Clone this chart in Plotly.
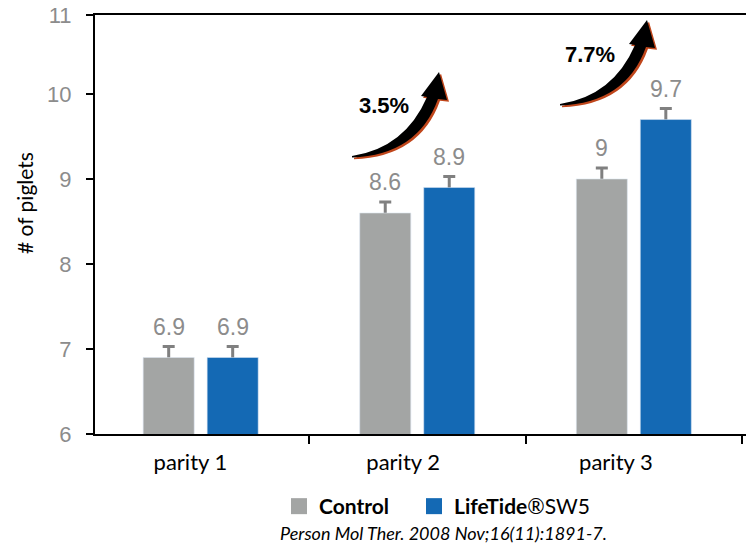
import plotly.graph_objects as go

categories = ["parity 1", "parity 2", "parity 3"]
control = [6.9, 8.6, 9.0]
lifetide = [6.9, 8.9, 9.7]
control_err = [0.13, 0.13, 0.13]
lifetide_err = [0.13, 0.13, 0.13]
series_names = ["<b>Control</b>", "<b>LifeTide</b>®SW5"]
increase_labels = ["3.5%", "7.7%"]
y_tickvals = [6, 7, 8, 9, 10, 10.93]
y_ticktext = ["6", "7", "8", "9", "10", "11"]
citation = "<i>Person Mol Ther. 2008 Nov;16(11):1891-7.</i>"

GRAY = "#A3A5A4"
BLUE = "#1469B4"
LABEL_GRAY = "#8C8C8C"
ERR_GRAY = "#808080"

W, H = 746, 545
L, R, T, B = 95, 0, 15, 111
PW, PH = W - L - R, H - T - B
BARGAP = 0.409
BARGROUPGAP = 0.203
XRANGE = [-0.488, 2.518]
XLABEL_RANGE = [-0.4484, 2.6116]   # tick-label axis, slightly different spacing as in source
YRANGE = [6, 10.93]


def paper(px, py):
    return (px - L) / PW, (T + PH - py) / PH


fig = go.Figure()
# error bars (drawn underneath, on base axes; lower part hidden by bars drawn above)
for vals, errs in [(control, control_err), (lifetide, lifetide_err)]:
    fig.add_trace(go.Bar(
        x=categories, y=vals, marker_color="rgba(0,0,0,0)", showlegend=False,
        hoverinfo="skip",
        error_y=dict(type="data", array=errs, arrayminus=[0.3] * len(errs),
                     symmetric=False, color=ERR_GRAY, thickness=3, width=6),
    ))
# visible bars on overlaying axes
for vals, name, col in [(control, series_names[0], GRAY), (lifetide, series_names[1], BLUE)]:
    fig.add_trace(go.Bar(x=categories, y=vals, name=name, marker_color=col,
                         showlegend=False, xaxis="x2", yaxis="y2"))
# carrier for the category tick labels
fig.add_trace(go.Scatter(x=categories, y=control, mode="none", showlegend=False,
                         hoverinfo="skip", xaxis="x3", yaxis="y"))
# legend entries (one legend per series so each can be placed)
for name, col, leg in zip(series_names, [GRAY, BLUE], ["legend", "legend2"]):
    fig.add_trace(go.Scatter(x=[None], y=[None], mode="markers", name=name, legend=leg,
                             marker=dict(symbol="square", size=16, color=col)))

annotations = []
slot = (1 - BARGAP) / 2
for ser_i, vals in enumerate([control, lifetide]):
    off = (ser_i - 0.5) * slot
    for i, v in enumerate(vals):
        annotations.append(dict(
            x=i + off, y=v, xref="x", yref="y", text=f"{v:g}", showarrow=False,
            yshift=31, font=dict(family="Liberation Sans, Arial", size=23, color=LABEL_GRAY)))

# curved arrows (pixel offsets relative to tail)
arrow_tails = [(352, 156), (560, 104)]
label_pos = [(384, 105), (590, 55)]


def arrow_path(tx, ty, dx=0.0, dy=0.0):
    pts = {
        "s": (0, 0), "uc": (53, -8), "ue": (75, -59), "hl": (69, -60),
        "tip": (87, -84), "hr": (95, -56), "ls": (86, -57), "lc": (66, -1), "e": (0, 1.5),
    }

    def p(k):
        x, y = pts[k]
        px, py = paper(tx + x + dx, ty + y + dy)
        return f"{px:.5f},{py:.5f}"
    return (f"M{p('s')} Q{p('uc')} {p('ue')} L{p('hl')} L{p('tip')} L{p('hr')} "
            f"L{p('ls')} Q{p('lc')} {p('e')} Z")


shapes = []
for (tx, ty) in arrow_tails:
    shapes.append(dict(type="path", xref="paper", yref="paper", path=arrow_path(tx, ty, 2, 1.8),
                       fillcolor="#C0461B", line=dict(width=0)))
    shapes.append(dict(type="path", xref="paper", yref="paper", path=arrow_path(tx, ty),
                       fillcolor="black", line=dict(width=0)))

for lab, (lx, ly) in zip(increase_labels, label_pos):
    px, py = paper(lx, ly)
    annotations.append(dict(x=px, y=py, xref="paper", yref="paper", text=f"<b>{lab}</b>",
                            showarrow=False, xanchor="center", yanchor="middle",
                            font=dict(family="Liberation Sans, Arial", size=22, color="black")))

# y-axis title
px, py = paper(24, 203)
annotations.append(dict(x=px, y=py, xref="paper", yref="paper", text="# of piglets",
                        textangle=-90, showarrow=False, xanchor="center", yanchor="middle",
                        font=dict(family="Lato", size=21, color="black")))
# citation
px, py = paper(443, 533)
annotations.append(dict(x=px, y=py, xref="paper", yref="paper", text=citation,
                        showarrow=False, xanchor="center", yanchor="middle",
                        font=dict(family="Lato", size=18, color="black")))

legend_style = dict(orientation="h", xanchor="left", yanchor="top",
                    font=dict(family="Lato", size=21, color="black"),
                    bgcolor="rgba(0,0,0,0)")
l1x, l1y = paper(279, 486)
l2x, _ = paper(414, 486)
fig.update_layout(
    width=W, height=H,
    margin=dict(l=L, r=R, t=T, b=B, autoexpand=False),
    paper_bgcolor="white", plot_bgcolor="white",
    barmode="group", bargap=BARGAP, bargroupgap=BARGROUPGAP,
    showlegend=True,
    legend=dict(x=l1x, y=l1y, **legend_style),
    legend2=dict(x=l2x, y=l1y, **legend_style),
    xaxis=dict(type="category", range=XRANGE, showline=True, linecolor="black",
               linewidth=2, mirror=True, ticks="outside", tickson="boundaries", ticklen=8,
               tickwidth=2, tickcolor="black", showgrid=False, zeroline=False,
               showticklabels=False),
    yaxis=dict(range=YRANGE, tickvals=y_tickvals, ticktext=y_ticktext, showline=True,
               linecolor="black", linewidth=2, ticks="outside", ticklen=7, tickwidth=2,
               tickcolor="black", showgrid=False, zeroline=False, ticklabelstandoff=10,
               tickfont=dict(family="Liberation Sans, Arial", size=22, color=LABEL_GRAY)),
    xaxis2=dict(type="category", overlaying="x", matches="x", range=XRANGE, visible=False),
    yaxis2=dict(overlaying="y", matches="y", range=YRANGE, visible=False),
    xaxis3=dict(type="category", overlaying="x", anchor="y", side="bottom",
                range=XLABEL_RANGE, showline=False, showgrid=False, zeroline=False,
                ticks="outside", ticklen=8, tickcolor="rgba(0,0,0,0)",
                ticklabelstandoff=1,
                tickfont=dict(family="Lato", size=22, color="black")),
    annotations=annotations,
    shapes=shapes,
)

fig.write_html("out.html", config={"displayModeBar": False},
               post_script="document.body.style.margin='0';document.body.style.padding='0';")
